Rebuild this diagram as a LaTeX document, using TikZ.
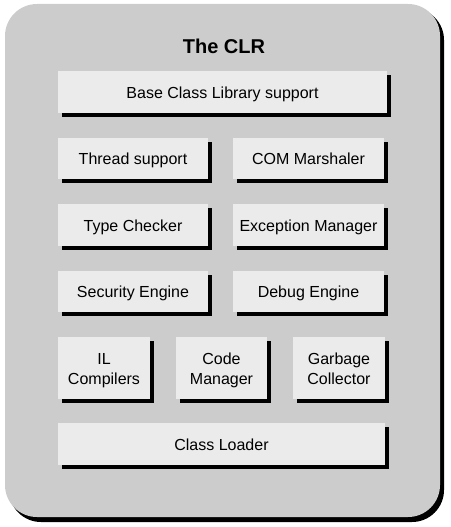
\documentclass[tikz,border=0pt]{standalone}
\usepackage{fontspec}
\setmainfont{Liberation Sans}
\definecolor{panel}{HTML}{CCCCCC}
\definecolor{boxfill}{HTML}{EBEBEB}
\tikzset{
  comp/.style={draw=none, fill=none, inner sep=0pt, align=center, font=\fontsize{12}{14.5}\selectfont},
  compshadow/.style={fill=black},
}
\begin{document}
\begin{tikzpicture}[x=0.75pt, y=-0.75pt]
\useasboundingbox (0,0) rectangle (450,527);
% outer panel
\fill[black, rounded corners=24] (9,8) rectangle (444,522);
\fill[panel, rounded corners=24] (5,4) rectangle (440,517);
\node[font=\bfseries\fontsize{15}{18}\selectfont] (title) at (224,46) {The CLR};
% boxes: shadow then box
\foreach \nm/\xa/\ya/\xb/\yb/\txt in {
  bcl/58/71/387/113/{\strut Base Class Library support},
  thr/58/138/208/179/{\strut Thread support},
  com/233/138/384/179/{\strut COM Marshaler},
  typ/58/204/208/246/{\strut Type Checker},
  exc/233/204/384/246/{\strut Exception Manager},
  sec/58/271/208/312/{\strut Security Engine},
  dbg/233/271/384/312/{\strut Debug Engine},
  il/58/337/150/399/{\strut IL\\\strut Compilers},
  cm/176/337/267/399/{\strut Code\\\strut Manager},
  gc/293/337/385/399/{\strut Garbage\\\strut Collector},
  cl/58/423/385/465/{\strut Class Loader}}
{
  \fill[compshadow] (\xa+3.5,\ya+4) rectangle (\xb+3.5,\yb+4);
  \fill[boxfill] (\xa,\ya) rectangle (\xb,\yb);
  \node[comp] (\nm) at ({(\xa+\xb)/2},{(\ya+\yb)/2+2.5}) {\txt};
}
\end{tikzpicture}
\end{document}
